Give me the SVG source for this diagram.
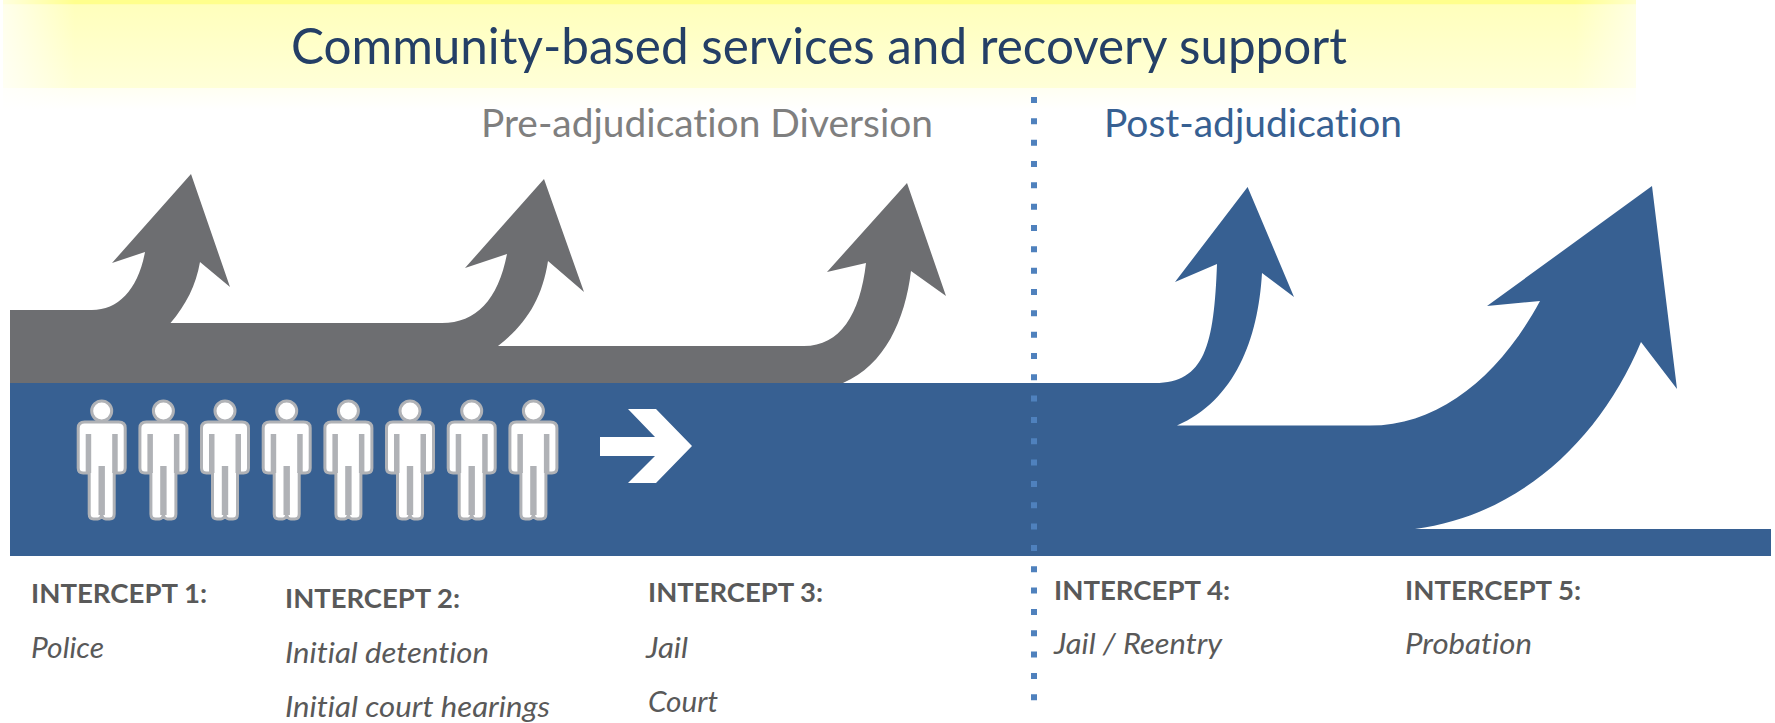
<svg xmlns="http://www.w3.org/2000/svg" width="1775" height="723" viewBox="0 0 1775 723">
<style>
text{font-family:Lato,"Open Sans","Liberation Sans",sans-serif;font-variant-ligatures:none}
.h{font-size:27px;font-weight:700;fill:#595959}
.i{font-size:28px;font-style:italic;fill:#595959}
.bar{fill:#b0b2b6}
</style>
<defs>
<linearGradient id="yv" x1="0" y1="0" x2="0" y2="1">
<stop offset="0" stop-color="#ffff8c"/><stop offset="0.04" stop-color="#ffff8c"/><stop offset="0.055" stop-color="#ffffbc"/><stop offset="1" stop-color="#ffffd8"/>
</linearGradient>
<linearGradient id="yf" x1="0" y1="0" x2="0" y2="1">
<stop offset="0" stop-color="#fffff2"/><stop offset="1" stop-color="#ffffff"/>
</linearGradient>
<linearGradient id="fl" x1="0" y1="0" x2="1" y2="0">
<stop offset="0" stop-color="#fff" stop-opacity="0.75"/><stop offset="1" stop-color="#fff" stop-opacity="0"/>
</linearGradient>
<linearGradient id="fr" x1="1" y1="0" x2="0" y2="0">
<stop offset="0" stop-color="#fff" stop-opacity="0.6"/><stop offset="1" stop-color="#fff" stop-opacity="0"/>
</linearGradient>
<g id="person">
<circle cx="0" cy="411" r="10" fill="#fff" stroke="#b0b2b6" stroke-width="3"/>
<path d="M-17,422 H17 Q23.5,422 23.5,428 V468 Q23.5,473 18.5,473 H12.5 V514 Q12.5,519 8,519 H4 Q1,519 0,515 Q-1,519 -4,519 H-8 Q-12.5,519 -12.5,514 V473 H-18.5 Q-23.5,473 -23.5,468 V428 Q-23.5,422 -17,422 Z" fill="#fff" stroke="#b0b2b6" stroke-width="3"/>
<rect class="bar" x="-16" y="434" width="5.5" height="39"/>
<rect class="bar" x="10.5" y="434" width="5.5" height="39"/>
<rect class="bar" x="-3.2" y="466" width="6.4" height="49"/>
</g>
</defs>
<rect width="1775" height="723" fill="#fff"/>
<g id="banner">
<rect x="3" y="0" width="1633" height="88" fill="url(#yv)"/>
<rect x="3" y="88" width="1633" height="22" fill="url(#yf)"/>
<rect x="0" y="0" width="75" height="110" fill="url(#fl)"/>
<rect x="1575" y="0" width="65" height="110" fill="url(#fr)"/>
<text x="291" y="64" font-size="50" fill="#243f66" textLength="1056" lengthAdjust="spacingAndGlyphs">Community-based services and recovery support</text>
</g>
<g id="flows">
<path id="diversion-flow" fill="#6d6e71" d="M10,383 V310 H92 C118,310 138,290 145,252 L112,263 L191,174 L230,287 L200,262 C196,285 186,305 170.5,323 H442 C476,323 498,300 507,254 L465,268 L544,179 L584,292 L548,261 C542,300 525,325 498,346 H804 C840,346 860,315 866,263 L827,272 L907,183 L946,296 L911,271 C905,320 885,365 843,383 Z"/>
<path id="main-flow" fill="#376092" d="M10,383 H1155 C1205,383 1214,345 1217,264 L1175,282 L1247.6,187 L1294,297 L1262,273 C1258,340 1235,400 1177,425.6 H1370 C1440,425.6 1500,375 1540,301 L1487,306 L1652,186 L1677,389 L1641,342 C1600,440 1520,515 1415,529 H1771 V556 H10 Z"/>
</g>
<g id="people">
<use href="#person" x="101.7"/><use href="#person" x="163.4"/><use href="#person" x="225"/><use href="#person" x="286.7"/><use href="#person" x="348.4"/><use href="#person" x="410"/><use href="#person" x="471.7"/><use href="#person" x="533.4"/>
</g>
<polygon id="direction-arrow" fill="#fff" points="600,437 655,437 628,409 656,409 692,446 656,483 628,483 655,456 600,456"/>
<line id="divider" x1="1034" y1="97" x2="1034" y2="702" stroke="#4f81bd" stroke-width="6" stroke-dasharray="6 15.33"/>
<g id="phase-labels">
<text x="481" y="137" font-size="38" fill="#7f7f7f" textLength="452" lengthAdjust="spacingAndGlyphs">Pre-adjudication Diversion</text>
<text x="1104" y="137" font-size="38" fill="#376092" textLength="298" lengthAdjust="spacingAndGlyphs">Post-adjudication</text>
</g>
<g id="intercept-1">
<text class="h" x="31" y="603" textLength="176" lengthAdjust="spacingAndGlyphs">INTERCEPT 1:</text>
<text class="i" x="31" y="658" textLength="73" lengthAdjust="spacingAndGlyphs">Police</text>
</g>
<g id="intercept-2">
<text class="h" x="285" y="608" textLength="175" lengthAdjust="spacingAndGlyphs">INTERCEPT 2:</text>
<text class="i" x="285" y="663" textLength="204" lengthAdjust="spacingAndGlyphs">Initial detention</text>
<text class="i" x="285" y="717" textLength="265" lengthAdjust="spacingAndGlyphs">Initial court hearings</text>
</g>
<g id="intercept-3">
<text class="h" x="648" y="602" textLength="175" lengthAdjust="spacingAndGlyphs">INTERCEPT 3:</text>
<text class="i" x="646" y="658" textLength="42" lengthAdjust="spacingAndGlyphs">Jail</text>
<text class="i" x="648" y="712" textLength="70" lengthAdjust="spacingAndGlyphs">Court</text>
</g>
<g id="intercept-4">
<text class="h" x="1054" y="600" textLength="176" lengthAdjust="spacingAndGlyphs">INTERCEPT 4:</text>
<text class="i" x="1054" y="654" textLength="168" lengthAdjust="spacingAndGlyphs">Jail / Reentry</text>
</g>
<g id="intercept-5">
<text class="h" x="1405" y="600" textLength="176" lengthAdjust="spacingAndGlyphs">INTERCEPT 5:</text>
<text class="i" x="1405" y="654" textLength="127" lengthAdjust="spacingAndGlyphs">Probation</text>
</g>
</svg>
